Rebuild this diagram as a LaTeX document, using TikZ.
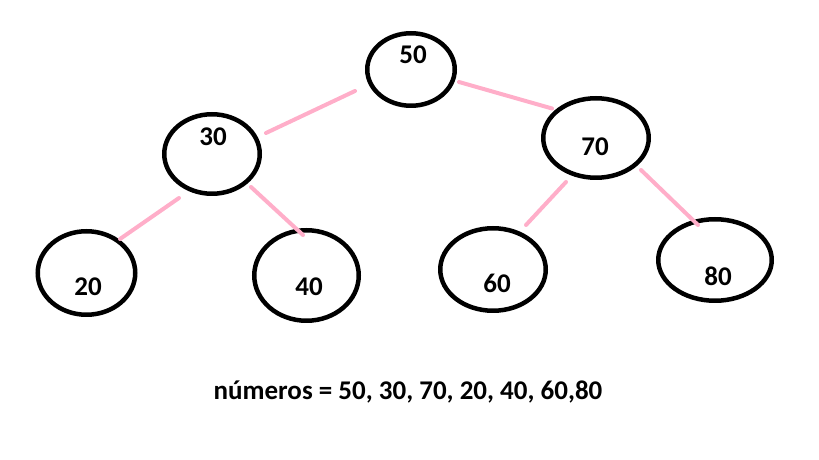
\documentclass[tikz,border=0pt]{standalone}
\usepackage{fontspec}
\setmainfont{Carlito}
\usetikzlibrary{shapes.geometric,calc}
\definecolor{rosa}{RGB}{255,174,201}
\tikzset{
    nodo/.style={ellipse, draw=black, line width=4.5pt, inner sep=0pt},
    rama/.style={rosa, line width=4pt, line cap=round},
    valor/.style={font=\fontsize{27}{30}\selectfont\bfseries}
}
\begin{document}
\begin{tikzpicture}[x=1pt, y=1pt]
    \useasboundingbox (0,0) rectangle (819,460);
    % 树的节点
    \foreach \n/\x/\y/\rx/\ry/\dx/\dy in {50/411/390.5/46/38.5/2/15, 30/212/306/50/42/1/17,
        70/596/322/55/42/-1/-9, 20/86.5/187/51/44/1.5/-14, 40/306.5/184.5/54.5/47.5/2.5/-11.5,
        60/493/190.5/55/43.5/4/-13.5, 80/715/200/59/43/3/-16} {
        \node[nodo, minimum width={2*\rx-4.5}, minimum height={2*\ry-4.5},
            label={[valor, xshift=\dx pt, yshift=\dy pt]center:\n}] (n\n) at (\x,\y) {};
    }
    
    % 连线
    \foreach \a/\b/\px/\py/\qx/\qy in {50/30/-56/-21.5/54/21, 50/70/48/-12.5/-44/29.5,
        30/20/-33/-44/33.5/34, 30/40/39/-33/-3.5/40.5,
        70/60/-30/-44/33/44.5, 70/80/45/-32/-17/35} {
        \draw[rama] ($(n\a)+(\px,\py)$) -- ($(n\b)+(\qx,\qy)$);
    }
    
    % 数列
    \node[valor] (lista) at (408,68) {números = 50, 30, 70, 20, 40, 60,80};
\end{tikzpicture}
\end{document}
